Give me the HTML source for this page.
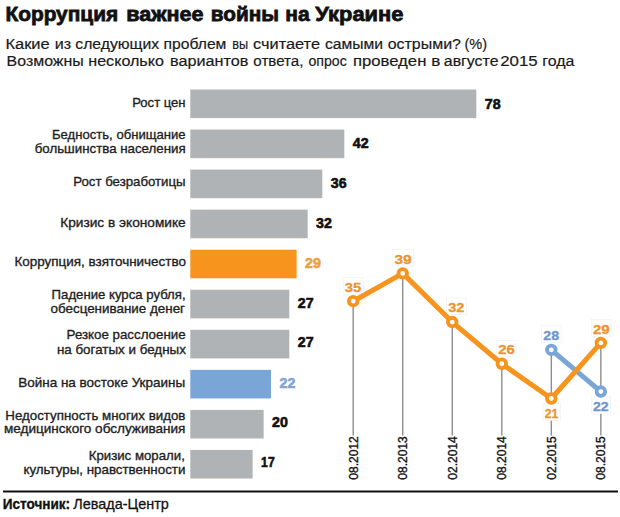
<!DOCTYPE html>
<html lang="ru"><head><meta charset="utf-8"><title>Коррупция важнее войны на Украине</title>
<style>
html,body{margin:0;padding:0;background:#fff;}
body{width:620px;height:517px;overflow:hidden;}
svg{display:block;font-family:'Liberation Sans', Arial, sans-serif;}
</style></head><body>
<svg width="620" height="517" viewBox="0 0 620 517">
<rect width="620" height="517" fill="#fff"/>
<text x="5.4" y="21.1" font-size="21" font-weight="bold" fill="#111" text-anchor="start" textLength="112.8" lengthAdjust="spacingAndGlyphs" stroke="#111" stroke-width="0.8">Коррупция</text>
<text x="126.2" y="21.1" font-size="21" font-weight="bold" fill="#111" text-anchor="start" textLength="77.2" lengthAdjust="spacingAndGlyphs" stroke="#111" stroke-width="0.8">важнее</text>
<text x="210.8" y="21.1" font-size="21" font-weight="bold" fill="#111" text-anchor="start" textLength="68.2" lengthAdjust="spacingAndGlyphs" stroke="#111" stroke-width="0.8">войны</text>
<text x="285.3" y="21.1" font-size="21" font-weight="bold" fill="#111" text-anchor="start" textLength="24.4" lengthAdjust="spacingAndGlyphs" stroke="#111" stroke-width="0.8">на</text>
<text x="315.3" y="21.1" font-size="21" font-weight="bold" fill="#111" text-anchor="start" textLength="88.2" lengthAdjust="spacingAndGlyphs" stroke="#111" stroke-width="0.8">Украине</text>
<text x="5.4" y="49.3" font-size="15.3" font-weight="normal" fill="#1a1a1a" text-anchor="start" textLength="44.3" lengthAdjust="spacingAndGlyphs" stroke="#1a1a1a" stroke-width="0.2">Какие</text>
<text x="54.8" y="49.3" font-size="15.3" font-weight="normal" fill="#1a1a1a" text-anchor="start" textLength="16.4" lengthAdjust="spacingAndGlyphs" stroke="#1a1a1a" stroke-width="0.2">из</text>
<text x="75.3" y="49.3" font-size="15.3" font-weight="normal" fill="#1a1a1a" text-anchor="start" textLength="83.8" lengthAdjust="spacingAndGlyphs" stroke="#1a1a1a" stroke-width="0.2">следующих</text>
<text x="163.5" y="49.3" font-size="15.3" font-weight="normal" fill="#1a1a1a" text-anchor="start" textLength="62.9" lengthAdjust="spacingAndGlyphs" stroke="#1a1a1a" stroke-width="0.2">проблем</text>
<text x="232.2" y="49.3" font-size="15.3" font-weight="normal" fill="#1a1a1a" text-anchor="start" textLength="15.9" lengthAdjust="spacingAndGlyphs" stroke="#1a1a1a" stroke-width="0.2">вы</text>
<text x="253.0" y="49.3" font-size="15.3" font-weight="normal" fill="#1a1a1a" text-anchor="start" textLength="67.0" lengthAdjust="spacingAndGlyphs" stroke="#1a1a1a" stroke-width="0.2">считаете</text>
<text x="324.9" y="49.3" font-size="15.3" font-weight="normal" fill="#1a1a1a" text-anchor="start" textLength="58.2" lengthAdjust="spacingAndGlyphs" stroke="#1a1a1a" stroke-width="0.2">самыми</text>
<text x="387.7" y="49.3" font-size="15.3" font-weight="normal" fill="#1a1a1a" text-anchor="start" textLength="73.3" lengthAdjust="spacingAndGlyphs" stroke="#1a1a1a" stroke-width="0.2">острыми?</text>
<text x="464.5" y="49.3" font-size="15.3" font-weight="normal" fill="#1a1a1a" text-anchor="start" textLength="22.6" lengthAdjust="spacingAndGlyphs" stroke="#1a1a1a" stroke-width="0.2">(%)</text>
<text x="6.6" y="66.4" font-size="15.3" font-weight="normal" fill="#1a1a1a" text-anchor="start" textLength="77.1" lengthAdjust="spacingAndGlyphs" stroke="#1a1a1a" stroke-width="0.2">Возможны</text>
<text x="88.3" y="66.4" font-size="15.3" font-weight="normal" fill="#1a1a1a" text-anchor="start" textLength="75.6" lengthAdjust="spacingAndGlyphs" stroke="#1a1a1a" stroke-width="0.2">несколько</text>
<text x="170.1" y="66.4" font-size="15.3" font-weight="normal" fill="#1a1a1a" text-anchor="start" textLength="78.3" lengthAdjust="spacingAndGlyphs" stroke="#1a1a1a" stroke-width="0.2">вариантов</text>
<text x="253.3" y="66.4" font-size="15.3" font-weight="normal" fill="#1a1a1a" text-anchor="start" textLength="50.2" lengthAdjust="spacingAndGlyphs" stroke="#1a1a1a" stroke-width="0.2">ответа,</text>
<text x="308.5" y="66.4" font-size="15.3" font-weight="normal" fill="#1a1a1a" text-anchor="start" textLength="38.3" lengthAdjust="spacingAndGlyphs" stroke="#1a1a1a" stroke-width="0.2">опрос</text>
<text x="352.9" y="66.4" font-size="15.3" font-weight="normal" fill="#1a1a1a" text-anchor="start" textLength="73.5" lengthAdjust="spacingAndGlyphs" stroke="#1a1a1a" stroke-width="0.2">проведен</text>
<text x="431.3" y="66.4" font-size="15.3" font-weight="normal" fill="#1a1a1a" text-anchor="start" textLength="9.1" lengthAdjust="spacingAndGlyphs" stroke="#1a1a1a" stroke-width="0.2">в</text>
<text x="443.8" y="66.4" font-size="15.3" font-weight="normal" fill="#1a1a1a" text-anchor="start" textLength="54.7" lengthAdjust="spacingAndGlyphs" stroke="#1a1a1a" stroke-width="0.2">августе</text>
<text x="500.2" y="66.4" font-size="15.3" font-weight="normal" fill="#1a1a1a" text-anchor="start" textLength="37.5" lengthAdjust="spacingAndGlyphs" stroke="#1a1a1a" stroke-width="0.2">2015</text>
<text x="542.3" y="66.4" font-size="15.3" font-weight="normal" fill="#1a1a1a" text-anchor="start" textLength="32.1" lengthAdjust="spacingAndGlyphs" stroke="#1a1a1a" stroke-width="0.2">года</text>
<text x="132.2" y="106.7" font-size="13.3" font-weight="normal" fill="#1e1e1e" text-anchor="start" textLength="53.4" lengthAdjust="spacingAndGlyphs" stroke="#1e1e1e" stroke-width="0.35">Рост цен</text>
<text x="52.0" y="138.5" font-size="13.3" font-weight="normal" fill="#1e1e1e" text-anchor="start" textLength="133.6" lengthAdjust="spacingAndGlyphs" stroke="#1e1e1e" stroke-width="0.35">Бедность, обнищание</text>
<text x="34.7" y="152.9" font-size="13.3" font-weight="normal" fill="#1e1e1e" text-anchor="start" textLength="151.0" lengthAdjust="spacingAndGlyphs" stroke="#1e1e1e" stroke-width="0.35">большинства населения</text>
<text x="73.2" y="186.1" font-size="13.3" font-weight="normal" fill="#1e1e1e" text-anchor="start" textLength="112.4" lengthAdjust="spacingAndGlyphs" stroke="#1e1e1e" stroke-width="0.35">Рост безработицы</text>
<text x="60.2" y="226.5" font-size="13.3" font-weight="normal" fill="#1e1e1e" text-anchor="start" textLength="125.5" lengthAdjust="spacingAndGlyphs" stroke="#1e1e1e" stroke-width="0.35">Кризис в экономике</text>
<text x="14.5" y="265.7" font-size="13.3" font-weight="normal" fill="#1e1e1e" text-anchor="start" textLength="171.4" lengthAdjust="spacingAndGlyphs" stroke="#1e1e1e" stroke-width="0.35">Коррупция, взяточничество</text>
<text x="51.6" y="299.0" font-size="13.3" font-weight="normal" fill="#1e1e1e" text-anchor="start" textLength="134.0" lengthAdjust="spacingAndGlyphs" stroke="#1e1e1e" stroke-width="0.35">Падение курса рубля,</text>
<text x="50.5" y="313.4" font-size="13.3" font-weight="normal" fill="#1e1e1e" text-anchor="start" textLength="134.5" lengthAdjust="spacingAndGlyphs" stroke="#1e1e1e" stroke-width="0.35">обесценивание денег</text>
<text x="66.6" y="339.3" font-size="13.3" font-weight="normal" fill="#1e1e1e" text-anchor="start" textLength="119.0" lengthAdjust="spacingAndGlyphs" stroke="#1e1e1e" stroke-width="0.35">Резкое расслоение</text>
<text x="56.9" y="353.8" font-size="13.3" font-weight="normal" fill="#1e1e1e" text-anchor="start" textLength="129.0" lengthAdjust="spacingAndGlyphs" stroke="#1e1e1e" stroke-width="0.35">на богатых и бедных</text>
<text x="18.2" y="387.3" font-size="13.3" font-weight="normal" fill="#1e1e1e" text-anchor="start" textLength="167.0" lengthAdjust="spacingAndGlyphs" stroke="#1e1e1e" stroke-width="0.35">Война на востоке Украины</text>
<text x="5.3" y="419.6" font-size="13.3" font-weight="normal" fill="#1e1e1e" text-anchor="start" textLength="180.1" lengthAdjust="spacingAndGlyphs" stroke="#1e1e1e" stroke-width="0.35">Недоступность многих видов</text>
<text x="4.0" y="433.0" font-size="13.3" font-weight="normal" fill="#1e1e1e" text-anchor="start" textLength="181.4" lengthAdjust="spacingAndGlyphs" stroke="#1e1e1e" stroke-width="0.35">медицинского обслуживания</text>
<text x="88.7" y="459.8" font-size="13.3" font-weight="normal" fill="#1e1e1e" text-anchor="start" textLength="96.2" lengthAdjust="spacingAndGlyphs" stroke="#1e1e1e" stroke-width="0.35">Кризис морали,</text>
<text x="23.4" y="473.5" font-size="13.3" font-weight="normal" fill="#1e1e1e" text-anchor="start" textLength="162.0" lengthAdjust="spacingAndGlyphs" stroke="#1e1e1e" stroke-width="0.35">культуры, нравственности</text>
<rect x="190.3" y="89.50" width="286.00" height="28.6" fill="#afb3b5"/>
<text x="484.8" y="108.5" font-size="14" font-weight="bold" fill="#111" text-anchor="start" textLength="15.8" lengthAdjust="spacingAndGlyphs" stroke="#111" stroke-width="0.6">78</text>
<rect x="190.3" y="129.55" width="154.00" height="28.6" fill="#afb3b5"/>
<text x="352.8" y="148.3" font-size="14" font-weight="bold" fill="#111" text-anchor="start" textLength="15.8" lengthAdjust="spacingAndGlyphs" stroke="#111" stroke-width="0.6">42</text>
<rect x="190.3" y="169.60" width="132.00" height="28.6" fill="#afb3b5"/>
<text x="330.8" y="188.1" font-size="14" font-weight="bold" fill="#111" text-anchor="start" textLength="15.8" lengthAdjust="spacingAndGlyphs" stroke="#111" stroke-width="0.6">36</text>
<rect x="190.3" y="209.65" width="117.33" height="28.6" fill="#afb3b5"/>
<text x="316.1" y="228.0" font-size="14" font-weight="bold" fill="#111" text-anchor="start" textLength="15.8" lengthAdjust="spacingAndGlyphs" stroke="#111" stroke-width="0.6">32</text>
<rect x="190.3" y="249.70" width="106.33" height="28.6" fill="#f7941d"/>
<text x="305.1" y="267.8" font-size="14" font-weight="bold" fill="#eda040" text-anchor="start" textLength="15.8" lengthAdjust="spacingAndGlyphs" stroke="#eda040" stroke-width="0.6">29</text>
<rect x="190.3" y="289.75" width="99.00" height="28.6" fill="#afb3b5"/>
<text x="297.8" y="307.6" font-size="14" font-weight="bold" fill="#111" text-anchor="start" textLength="15.8" lengthAdjust="spacingAndGlyphs" stroke="#111" stroke-width="0.6">27</text>
<rect x="190.3" y="329.80" width="99.00" height="28.6" fill="#afb3b5"/>
<text x="297.8" y="347.4" font-size="14" font-weight="bold" fill="#111" text-anchor="start" textLength="15.8" lengthAdjust="spacingAndGlyphs" stroke="#111" stroke-width="0.6">27</text>
<rect x="190.3" y="369.85" width="80.67" height="28.6" fill="#79a5d7"/>
<text x="279.5" y="387.8" font-size="14" font-weight="bold" fill="#84a6d6" text-anchor="start" textLength="15.8" lengthAdjust="spacingAndGlyphs" stroke="#84a6d6" stroke-width="0.6">22</text>
<rect x="190.3" y="409.90" width="73.33" height="28.6" fill="#afb3b5"/>
<text x="272.1" y="427.1" font-size="14" font-weight="bold" fill="#111" text-anchor="start" textLength="15.8" lengthAdjust="spacingAndGlyphs" stroke="#111" stroke-width="0.6">20</text>
<rect x="190.3" y="449.95" width="62.33" height="28.6" fill="#afb3b5"/>
<text x="261.1" y="466.9" font-size="14" font-weight="bold" fill="#111" text-anchor="start" textLength="13.6" lengthAdjust="spacingAndGlyphs" stroke="#111" stroke-width="0.6">17</text>
<line x1="353.20" y1="301.2" x2="353.20" y2="435.6" stroke="#8e8e8e" stroke-width="1.4"/>
<line x1="402.73" y1="273.4" x2="402.73" y2="435.6" stroke="#8e8e8e" stroke-width="1.4"/>
<line x1="452.26" y1="322.1" x2="452.26" y2="435.6" stroke="#8e8e8e" stroke-width="1.4"/>
<line x1="501.79" y1="363.8" x2="501.79" y2="435.6" stroke="#8e8e8e" stroke-width="1.4"/>
<line x1="551.32" y1="349.8" x2="551.32" y2="435.6" stroke="#8e8e8e" stroke-width="1.4"/>
<line x1="600.85" y1="342.9" x2="600.85" y2="435.6" stroke="#8e8e8e" stroke-width="1.4"/>
<text transform="translate(357.80,479.7) rotate(-90)" font-size="13" fill="#111" stroke="#111" stroke-width="0.35" textLength="43.5" lengthAdjust="spacingAndGlyphs">08.2012</text>
<text transform="translate(407.33,479.7) rotate(-90)" font-size="13" fill="#111" stroke="#111" stroke-width="0.35" textLength="43.5" lengthAdjust="spacingAndGlyphs">08.2013</text>
<text transform="translate(456.86,479.7) rotate(-90)" font-size="13" fill="#111" stroke="#111" stroke-width="0.35" textLength="43.5" lengthAdjust="spacingAndGlyphs">02.2014</text>
<text transform="translate(506.39,479.7) rotate(-90)" font-size="13" fill="#111" stroke="#111" stroke-width="0.35" textLength="43.5" lengthAdjust="spacingAndGlyphs">08.2014</text>
<text transform="translate(555.92,479.7) rotate(-90)" font-size="13" fill="#111" stroke="#111" stroke-width="0.35" textLength="43.5" lengthAdjust="spacingAndGlyphs">02.2015</text>
<text transform="translate(605.45,479.7) rotate(-90)" font-size="13" fill="#111" stroke="#111" stroke-width="0.35" textLength="43.5" lengthAdjust="spacingAndGlyphs">08.2015</text>
<rect x="343.2" y="277.5" width="20.1" height="16.9" fill="#fff" stroke="#efefef" stroke-width="0.6"/>
<rect x="392.8" y="249.3" width="20.8" height="16.6" fill="#fff" stroke="#efefef" stroke-width="0.6"/>
<rect x="446.6" y="298.0" width="19.7" height="16.6" fill="#fff" stroke="#efefef" stroke-width="0.6"/>
<rect x="496.6" y="340.4" width="20.2" height="16.3" fill="#fff" stroke="#efefef" stroke-width="0.6"/>
<rect x="543.1" y="403.7" width="17.2" height="16.6" fill="#fff" stroke="#efefef" stroke-width="0.6"/>
<rect x="541.7" y="325.8" width="19.4" height="16.5" fill="#fff" stroke="#efefef" stroke-width="0.6"/>
<rect x="591.3" y="319.4" width="20.3" height="16.8" fill="#fff" stroke="#efefef" stroke-width="0.6"/>
<rect x="591.3" y="396.8" width="19.4" height="16.8" fill="#fff" stroke="#efefef" stroke-width="0.6"/>
<polyline points="551.32,349.85 600.85,391.55" fill="none" stroke="#79a5d7" stroke-width="5" stroke-linejoin="round"/>
<circle cx="551.32" cy="349.85" r="4.3" fill="#fff" stroke="#79a5d7" stroke-width="3.8"/>
<circle cx="600.85" cy="391.55" r="4.3" fill="#fff" stroke="#79a5d7" stroke-width="3.8"/>
<polyline points="353.20,301.20 402.73,273.40 452.26,322.05 501.79,363.75 551.32,398.50 600.85,342.90" fill="none" stroke="#f7941d" stroke-width="5" stroke-linejoin="round"/>
<circle cx="353.20" cy="301.20" r="4.3" fill="#fff" stroke="#f7941d" stroke-width="3.8"/>
<circle cx="402.73" cy="273.40" r="4.3" fill="#fff" stroke="#f7941d" stroke-width="3.8"/>
<circle cx="452.26" cy="322.05" r="4.3" fill="#fff" stroke="#f7941d" stroke-width="3.8"/>
<circle cx="501.79" cy="363.75" r="4.3" fill="#fff" stroke="#f7941d" stroke-width="3.8"/>
<circle cx="551.32" cy="398.50" r="4.3" fill="#fff" stroke="#f7941d" stroke-width="3.8"/>
<circle cx="600.85" cy="342.90" r="4.3" fill="#fff" stroke="#f7941d" stroke-width="3.8"/>
<text x="344.8" y="292.1" font-size="13.3" font-weight="bold" fill="#ec932c" text-anchor="start" textLength="16.5" lengthAdjust="spacingAndGlyphs" stroke="#ec932c" stroke-width="0.3">35</text>
<text x="394.4" y="263.6" font-size="13.3" font-weight="bold" fill="#ec932c" text-anchor="start" textLength="17.2" lengthAdjust="spacingAndGlyphs" stroke="#ec932c" stroke-width="0.3">39</text>
<text x="448.2" y="312.3" font-size="13.3" font-weight="bold" fill="#ec932c" text-anchor="start" textLength="16.1" lengthAdjust="spacingAndGlyphs" stroke="#ec932c" stroke-width="0.3">32</text>
<text x="498.2" y="354.4" font-size="13.3" font-weight="bold" fill="#ec932c" text-anchor="start" textLength="16.6" lengthAdjust="spacingAndGlyphs" stroke="#ec932c" stroke-width="0.3">26</text>
<text x="544.7" y="418.0" font-size="13.3" font-weight="bold" fill="#ec932c" text-anchor="start" textLength="13.6" lengthAdjust="spacingAndGlyphs" stroke="#ec932c" stroke-width="0.3">21</text>
<text x="543.3" y="340.0" font-size="13.3" font-weight="bold" fill="#6e95cb" text-anchor="start" textLength="15.8" lengthAdjust="spacingAndGlyphs" stroke="#6e95cb" stroke-width="0.3">28</text>
<text x="592.9" y="333.9" font-size="13.3" font-weight="bold" fill="#ec932c" text-anchor="start" textLength="16.7" lengthAdjust="spacingAndGlyphs" stroke="#ec932c" stroke-width="0.3">29</text>
<text x="592.9" y="411.3" font-size="13.3" font-weight="bold" fill="#6e95cb" text-anchor="start" textLength="15.8" lengthAdjust="spacingAndGlyphs" stroke="#6e95cb" stroke-width="0.3">22</text>
<rect x="3" y="490.5" width="615" height="2" fill="#111"/>
<text x="2.8" y="508.8" font-size="15" font-weight="bold" fill="#111" text-anchor="start" textLength="67.3" lengthAdjust="spacingAndGlyphs" stroke="#111" stroke-width="0.35">Источник:</text>
<text x="73.3" y="508.8" font-size="15" font-weight="normal" fill="#111" text-anchor="start" textLength="95.6" lengthAdjust="spacingAndGlyphs" stroke="#111" stroke-width="0.3">Левада-Центр</text>
</svg>
</body></html>
